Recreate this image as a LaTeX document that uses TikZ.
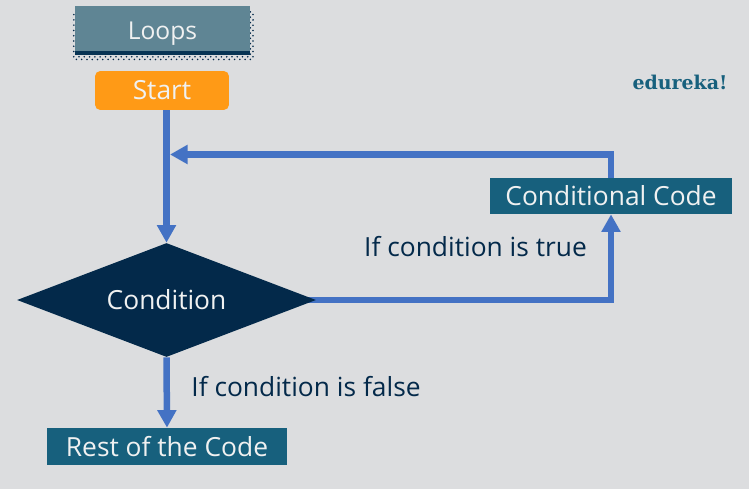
\documentclass[tikz,border=0pt]{standalone}
\usepackage{fontspec}
\setmainfont{Open Sans}
\newfontfamily\logofont{DejaVu Serif}
\usepackage{xcolor}
\usetikzlibrary{shapes.geometric,arrows.meta,patterns,backgrounds}
\definecolor{bgrey}{HTML}{DCDDDF}
\definecolor{navy}{HTML}{03294A}
\definecolor{teal}{HTML}{17607D}
\definecolor{slate}{HTML}{5F8594}
\definecolor{orng}{HTML}{FF9A16}
\definecolor{arrowblue}{HTML}{4472C4}
\definecolor{boxtext}{HTML}{F0F1F1}
\tikzset{
  flowbox/.style={fill=teal,text=boxtext,inner sep=0pt,font=\fontsize{15}{18}\selectfont},
  flowline/.style={draw=arrowblue,line width=3.7pt},
  flowarrow/.style={flowline,-{Triangle[length=10pt,width=10.4pt]}},
  caption/.style={text=navy,font=\fontsize{15}{18}\selectfont,inner sep=0pt}
}
\begin{document}
\begin{tikzpicture}[x=0.02cm,y=-0.02cm]
% title box with its dotted shadow
\fill[pattern=crosshatch dots,pattern color=navy] (72,12) rectangle (254,61);
\node[flowbox,fill=slate,minimum width=3.5cm,minimum height=0.98cm,text depth=0pt,font=\fontsize{14}{18}\selectfont] (loops) at (162.5,30.5) {Loops};
\fill[navy!80!teal] (loops.south west) ++(0,-4) rectangle (loops.south east);
\node[flowbox,fill=orng,rounded corners=3pt,minimum width=2.68cm,minimum height=0.78cm] (start) at (162,90.5) {Start};
\node[diamond,aspect=2.62,fill=navy,text=boxtext,inner sep=0pt,minimum width=5.98cm,minimum height=2.28cm,font=\fontsize{15}{18}\selectfont] (condition) at (166.5,300) {Condition};
\node[flowbox,minimum width=4.8cm,minimum height=0.74cm] (rest) at (167,446.5) {Rest of the Code};
\node[flowbox,minimum width=4.84cm,minimum height=0.72cm] (ccode) at (611,196) {Conditional Code};
% logo and labels
\node[text=teal,inner sep=0pt,font=\logofont\bfseries\fontsize{10.8}{12}\selectfont] (logo) at (680,82.5) {edureka!};
\node[caption] (truelabel) at (475.5,246.5) {If condition is true};
\node[caption] (falselabel) at (306,386.5) {If condition is false};
% connectors
\coordinate (merge) at (170,154.5);
\draw[flowarrow] (start.south -| condition.north) -- (condition.north);
\draw[flowarrow] (condition.south) -- (rest.north);
\draw[flowarrow] (ccode.north) |- (merge);
\begin{pgfonlayer}{background}
\fill[bgrey] (0,0) rectangle (749,489);
\draw[flowarrow] (condition.center) -| (ccode.south);
\end{pgfonlayer}
\end{tikzpicture}
\end{document}
